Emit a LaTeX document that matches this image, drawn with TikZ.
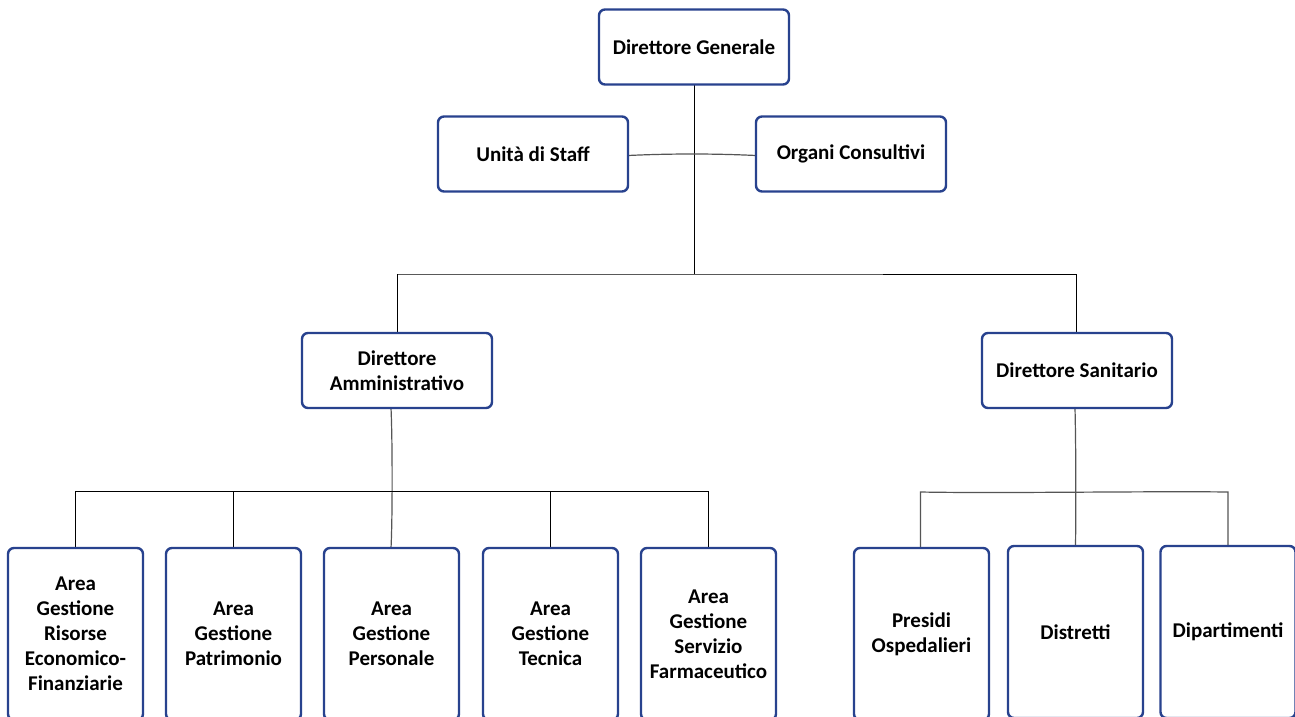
\documentclass[tikz,border=0pt]{standalone}
\usepackage{fontspec}
\setmainfont{Carlito}
\definecolor{boxblue}{RGB}{40,66,142}
\definecolor{linegray}{RGB}{85,85,85}
\begin{document}
\begin{tikzpicture}[x=1pt,y=-1pt,
  box/.style={draw=boxblue, line width=2.4pt, rounded corners=6pt, fill=white,
    align=center, text=black, inner sep=0pt,
    font=\bfseries\fontsize{21}{25}\selectfont},
  headbox/.style={box, minimum width=190pt, minimum height=75pt},
  leafbox/.style={box, minimum width=135pt, minimum height=172pt, text width=132pt},
  link/.style={draw=black, line width=0.9pt},
  softlink/.style={draw=linegray, line width=1.2pt}]
\useasboundingbox (0,0) rectangle (1295,716);
\clip (0,0) rectangle (1295,716);
\fill[white] (0,0) rectangle (1295,716);

% connector junctions
\coordinate (j1) at (694,274);
\coordinate (j2) at (392,491);
\coordinate (j3) at (1075,492);

% tree connectors
\draw[link] (694,84) -- (j1);
\draw[link] (397,274) -- (j1) -- (1076,274);
\draw[link] (397,274) -- (397,333);
\draw[link] (1076,274) -- (1076,333);

% staff link
\draw[softlink] (628,155.5) .. controls (670,153.5) and (714,153.5) .. (756,155.5);

% Direttore Amministrativo branch
\draw[softlink] (391,408) .. controls (392.5,440) and (392.5,520) .. (391,548);
\draw[link] (75.5,548) -- (75.5,491) -- (708.5,491) -- (708.5,548);
\draw[link] (233.5,491) -- (233.5,548);
\draw[link] (550.5,491) -- (550.5,548);

% Direttore Sanitario branch
\draw[softlink] (1075,408) .. controls (1076,450) and (1076,510) .. (1075.5,546);
\draw[softlink] (920.5,548) -- (920.5,492) .. controls (1000,493.5) and (1150,491) .. (1228,492) -- (1228,546);

% top level
\node[headbox] (dg) at (694,47) {Direttore Generale};
\node[headbox] (staff) at (533,154) {Unità di Staff};
\node[headbox] (organi) at (851,154) {Organi Consultivi};
\node[headbox] (da) at (397,370.5) {Direttore\\Amministrativo};
\node[headbox] (ds) at (1077,370.5) {Direttore Sanitario};

% administrative areas
\node[leafbox] (a1) at (75.5,634) {Area\\Gestione\\Risorse\\Economico-\\Finanziarie};
\node[leafbox] (a2) at (233.5,634) {Area\\Gestione\\Patrimonio};
\node[leafbox] (a3) at (391.5,634) {Area\\Gestione\\Personale};
\node[leafbox] (a4) at (550.5,634) {Area\\Gestione\\Tecnica};
\node[leafbox] (a5) at (708.5,634) {Area\\Gestione\\Servizio\\Farmaceutico};

% health areas
\node[leafbox] (p) at (921.5,634) {Presidi\\Ospedalieri};
\node[leafbox] (d) at (1075.5,632) {Distretti};
\node[leafbox] (dip) at (1228,632) {Dipartimenti};
\end{tikzpicture}
\end{document}
